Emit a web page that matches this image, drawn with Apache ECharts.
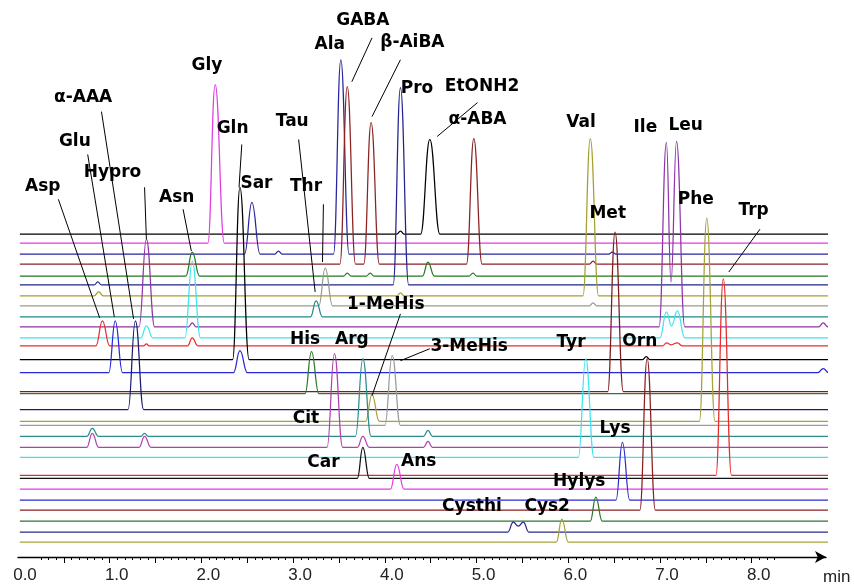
<!DOCTYPE html>
<html>
<head>
<meta charset="utf-8">
<script src="https://cdn.jsdelivr.net/npm/echarts@6/dist/echarts.min.js"></script>
<style>
  html, body { margin: 0; padding: 0; background: #fff; }
  #chart { width: 854px; height: 586px; }
</style>
</head>
<body>
<div id="chart"></div>
<script>
// vertical offset of each run (stacked chromatograms), top run first
const runOffsets = [324, 315, 304, 294, 282, 273, 262, 252, 241, 231, 220, 212, 198, 185, 166,
  164, 148, 136, 132, 121, 110, 100, 82, 79, 68, 57, 47, 36, 25, 15];

const runColors = ["#000000", "#e03ce0", "#26269a", "#8b2323", "#237a23", "#23238e", "#a5a02f",
  "#9a9a8c", "#1f8a8a", "#8e35a8", "#3fe4ee", "#e8302f", "#000000", "#2727d6", "#7d1c1c",
  "#2c7a2c", "#1c1c6e", "#a6a23a", "#9b9b9b", "#2a8c8c", "#b040b0", "#3fe3ee", "#e52b2b",
  "#111111", "#e83ae8", "#2d2dd2", "#8a2020", "#2a7a2a", "#2a2a8e", "#a6a23a"];

// knots of every run: [time (min), signal above its baseline]
const runKnots = [
  [[4.13,0],[4.17,3],[4.21,0],[4.39,0],[4.49,95],[4.60,0]],
  [[2.07,0],[2.15,159],[2.25,0]],
  [[2.47,0],[2.55,52],[2.64,0],[2.80,0],[2.84,3],[2.88,0],[3.44,0],[3.52,195],[3.61,0],[6.44,0],[6.48,2],[6.52,0]],
  [[3.51,0],[3.59,178],[3.68,0],[3.77,0],[3.85,142],[3.94,0],[4.89,0],[4.97,126],[5.06,0],[6.23,0],[6.27,3],[6.31,0]],
  [[1.83,0],[1.90,24],[1.98,0],[3.55,0],[3.59,3],[3.63,0],[3.80,0],[3.84,3],[3.88,0],[4.41,0],[4.47,14],[4.54,0],[4.92,0],[4.96,3],[5.00,0]],
  [[0.83,0],[0.87,3],[0.91,0],[4.09,0],[4.17,198],[4.26,0]],
  [[0.83,0],[0.88,4],[0.93,0],[4.13,0],[4.17,3],[4.21,0],[6.16,0],[6.24,158],[6.33,0]],
  [[3.28,0],[3.35,38],[3.43,0],[6.23,0],[6.27,3],[6.31,0]],
  [[3.19,0],[3.25,16],[3.32,0]],
  [[1.32,0],[1.40,88],[1.49,0],[1.86,0],[1.90,4],[1.94,0],[6.99,0],[7.07,185],[7.12,45],[7.18,186],[7.27,0],[8.73,0],[8.78,4],[8.83,0]],
  [[1.34,0],[1.40,12],[1.47,0],[1.82,0],[1.90,77],[1.99,0],[7.00,0],[7.07,26],[7.125,12],[7.19,27],[7.27,0]],
  [[0.85,0],[0.92,25],[1.00,0],[1.37,0],[1.40,2],[1.43,0],[1.85,0],[1.90,8],[1.96,0],[7.03,0],[7.07,3],[7.12,1],[7.19,3],[7.24,0]],
  [[2.34,0],[2.42,173],[2.52,0],[6.81,0],[6.85,3],[6.89,0]],
  [[0.99,0],[1.06,52],[1.14,0],[2.35,0],[2.42,22],[2.50,0],[8.72,0],[8.78,4],[8.84,0]],
  [[6.43,0],[6.51,160],[6.60,0]],
  [[3.13,0],[3.20,42],[3.28,0]],
  [[1.20,0],[1.28,89],[1.37,0]],
  [[3.79,0],[3.86,27],[3.94,0],[7.43,0],[7.51,204],[7.60,0]],
  [[4.00,0],[4.08,70],[4.17,0]],
  [[0.75,0],[0.81,8],[0.88,0],[1.34,0],[1.38,3],[1.42,0],[3.68,0],[3.76,78],[3.85,0],[4.42,0],[4.47,6],[4.52,0]],
  [[0.75,0],[0.81,14],[0.88,0],[1.32,0],[1.38,11],[1.45,0],[3.37,0],[3.45,94],[3.54,0],[3.70,0],[3.76,11],[3.83,0],[4.42,0],[4.47,6],[4.52,0]],
  [[6.11,0],[6.19,99],[6.28,0]],
  [[7.61,0],[7.69,197],[7.78,0]],
  [[3.70,0],[3.76,31],[3.83,0]],
  [[4.06,0],[4.13,25],[4.21,0]],
  [[6.52,0],[6.59,58],[6.67,0]],
  [[6.78,0],[6.86,152],[6.95,0]],
  [[6.24,0],[6.30,24],[6.37,0]],
  [[5.34,0],[5.40,10],[5.455,6],[5.51,10],[5.57,0]],
  [[5.87,0],[5.93,23],[6.00,0]]
];

const runStart = 0.02;
const runEnd = 8.96;

// compound labels: name, time, level
const labelNames = ["GABA", "Ala", "β-AiBA", "Gly", "Pro", "EtONH2", "α-AAA", "α-ABA", "Val", "Ile",
  "Leu", "Tau", "Gln", "Glu", "Sar", "Thr", "Hypro", "Asp", "Asn", "Phe", "Met", "Trp", "1-MeHis",
  "His", "Arg", "3-MeHis", "Tyr", "Orn", "Cit", "Lys", "Car", "Ans", "Hylys", "Cysthi", "Cys2"];
const labelTimes = [3.76, 3.40, 4.30, 2.06, 4.35, 5.06, 0.71, 5.01, 6.14, 6.84,
  7.28, 2.99, 2.34, 0.62, 2.60, 3.14, 1.03, 0.27, 1.73, 7.39, 6.43, 8.02, 4.01,
  3.13, 3.64, 4.92, 6.03, 6.78, 3.14, 6.51, 3.33, 4.37, 6.12, 4.95, 5.77];
const labelLevels = [538, 514, 516, 493, 470, 472, 461, 439, 436, 431,
  433, 437, 430, 417, 375, 372, 386, 372, 361, 359, 345, 348, 253,
  218, 218, 211, 215, 216, 139, 129, 95, 96, 76, 51, 51];

// leader lines: [t1, level1, t2, level2]
const leaderLines = [
  [0.44, 359, 0.89, 240], [0.76, 404, 1.05, 241], [0.91, 447, 1.26, 239], [1.38, 371, 1.40, 319],
  [1.80, 349, 1.89, 307], [2.44, 414, 2.41, 371], [3.06, 419, 3.24, 266], [3.33, 354, 3.32, 296],
  [3.86, 521, 3.64, 477], [4.17, 499, 3.86, 442], [5.01, 456, 4.57, 422], [8.09, 329, 7.75, 286],
  [4.17, 244, 3.86, 162], [4.49, 209, 4.17, 197]
];

const axisLabels = [0, 1, 2, 3, 4, 5, 6, 7, 8];
const majorTicks = [];
const minorTicks = [];
for (let i = 3; i <= 99; i++) {
  const v = i / 12;
  if (i % 6 === 0) majorTicks.push(v); else minorTicks.push(v);
}

const chart = echarts.init(document.getElementById("chart"));

const runSeries = runKnots.map((knots, i) => {
  const base = runOffsets[i];
  const data = [[runStart, base]]
    .concat(knots.map(k => [k[0], base + k[1]]))
    .concat([[runEnd, base]]);
  return {
    type: "line",
    data: data,
    showSymbol: false,
    symbol: "none",
    smooth: 0.45,
    smoothMonotone: "x",
    clip: false,
    silent: true,
    lineStyle: { color: runColors[i], width: 1.25 },
    z: 2
  };
});

const option = {
  animation: false,
  backgroundColor: "#ffffff",
  grid: { left: 18, right: 28, top: 0, bottom: 27 },
  xAxis: [
    {
      type: "value",
      min: 0,
      max: 8.81,
      position: "bottom",
      axisLine: {
        show: true,
        symbol: ["none", "arrow"],
        symbolSize: [9, 11],
        lineStyle: { color: "#000", width: 1.4 }
      },
      axisTick: { show: true, customValues: majorTicks, length: 6, lineStyle: { color: "#000", width: 1 } },
      axisLabel: {
        show: true,
        customValues: axisLabels,
        formatter: v => v.toFixed(1),
        margin: 10,
        padding: [0, 0, 0, 14],
        fontFamily: "Liberation Sans",
        fontSize: 17,
        color: "#222"
      },
      splitLine: { show: false },
      name: "min",
      nameLocation: "end",
      nameGap: -3,
      nameTextStyle: {
        fontFamily: "Liberation Sans",
        fontSize: 17,
        color: "#222",
        align: "left",
        verticalAlign: "top",
        padding: [12, 0, 0, 0]
      }
    },
    {
      type: "value",
      min: 0,
      max: 8.81,
      position: "bottom",
      axisLine: { show: false },
      axisTick: { show: true, customValues: minorTicks, length: 3, lineStyle: { color: "#000", width: 1 } },
      axisLabel: { show: false },
      splitLine: { show: false }
    }
  ],
  yAxis: { type: "value", min: 0, max: 559, show: false },
  series: runSeries.concat([
    {
      type: "lines",
      coordinateSystem: "cartesian2d",
      silent: true,
      z: 3,
      lineStyle: { color: "#000", width: 1, opacity: 1 },
      data: leaderLines.map(l => ({ coords: [[l[0], l[1]], [l[2], l[3]]] }))
    },
    {
      type: "scatter",
      symbolSize: 0,
      silent: true,
      z: 4,
      itemStyle: { opacity: 1 },
      data: labelNames.map((n, i) => ({ name: n, value: [labelTimes[i], labelLevels[i]] })),
      label: {
        show: true,
        position: "inside",
        formatter: p => p.name,
        fontFamily: "DejaVu Sans",
        fontWeight: "bold",
        fontSize: 17,
        color: "#000000",
        opacity: 1,
        textBorderWidth: 0
      }
    }
  ])
};

chart.setOption(option);
</script>
</body>
</html>
